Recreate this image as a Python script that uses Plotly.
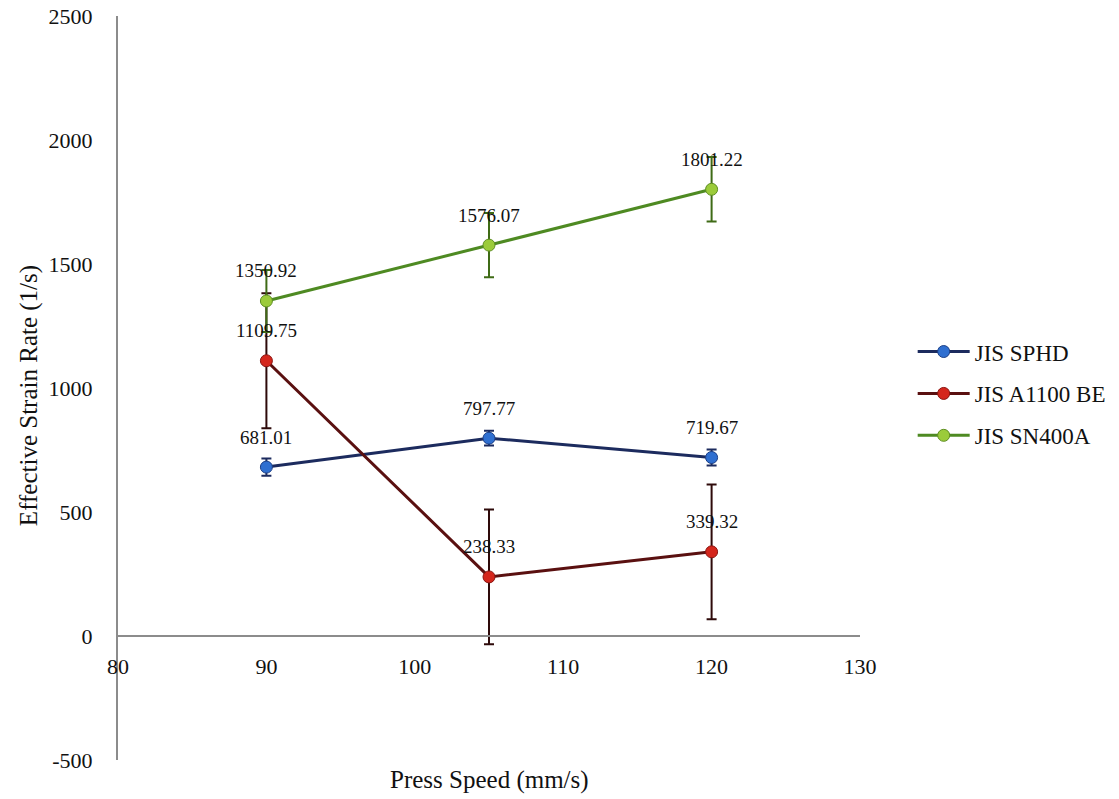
import plotly.graph_objects as go

press_speed = [90, 105, 120]
series_names = ["JIS SPHD", "JIS A1100 BE", "JIS SN400A"]
sphd = [681.01, 797.77, 719.67]
a1100 = [1109.75, 238.33, 339.32]
sn400a = [1350.92, 1576.07, 1801.22]
sphd_err = [35, 30, 32]
a1100_err = [272, 272, 272]
sn400a_err = [125, 130, 130]

y_ticks = [-500, 0, 500, 1000, 1500, 2000, 2500]
y_tick_text = ["-500", "0", "500", "1000", "1500", "2000", "2500"]
x_ticks = [80, 90, 100, 110, 120, 130]

FONT = "Liberation Serif, Times New Roman, serif"

styles = [
    dict(line="#1c2b5e", marker="#2f6fd0", outline="#1d3f86", err="#1c2b5e"),
    dict(line="#5a1010", marker="#d4261c", outline="#8a1410", err="#2e0a0a"),
    dict(line="#4e8a22", marker="#9bcb3a", outline="#5f8f22", err="#3f6b16"),
]

fig = go.Figure()
annotations = []
for name, vals, errs, st in zip(series_names, [sphd, a1100, sn400a],
                                [sphd_err, a1100_err, sn400a_err], styles):
    fig.add_trace(go.Scatter(
        x=press_speed, y=vals, name=name, mode="lines+markers",
        line=dict(color=st["line"], width=3),
        marker=dict(color=st["marker"], size=12,
                    line=dict(color=st["outline"], width=1)),
        error_y=dict(type="data", array=errs, visible=True,
                     color=st["err"], thickness=2, width=5),
        legendgroup=name,
    ))
    for xv, yv in zip(press_speed, vals):
        annotations.append(dict(
            x=xv, y=yv, xref="x", yref="y", text=f"{yv:.2f}",
            showarrow=False, yshift=30, yanchor="middle",
            font=dict(family=FONT, size=19, color="#111"),
        ))

annotations.append(dict(
    x=0.5, y=-0.027, xref="paper", yref="paper", text="Press Speed (mm/s)",
    showarrow=False, xanchor="center", yanchor="middle",
    font=dict(family=FONT, size=25, color="#111"),
))
annotations.append(dict(
    x=-0.119, y=0.49, xref="paper", yref="paper",
    text="Effective Strain Rate (1/s)", textangle=-90,
    showarrow=False, xanchor="center", yanchor="middle",
    font=dict(family=FONT, size=25, color="#111"),
))

fig.update_layout(
    width=1119, height=799,
    margin=dict(l=118, r=259, t=16, b=39, autoexpand=False),
    paper_bgcolor="white", plot_bgcolor="white",
    font=dict(family=FONT, size=20, color="#111"),
    showlegend=True,
    legend=dict(x=1.071, y=0.4925, xanchor="left", yanchor="middle",
                font=dict(family=FONT, size=23, color="#111"),
                tracegroupgap=9, itemwidth=52, bgcolor="rgba(0,0,0,0)"),
    annotations=annotations,
    xaxis=dict(range=[80, 130], tickvals=x_ticks, showgrid=False,
               zeroline=False, showline=True, linecolor="#8c8c8c",
               linewidth=2, ticks="", anchor="free", position=1/6,
               ticklabelstandoff=11,
               tickfont=dict(family=FONT, size=22, color="#111")),
    yaxis=dict(range=[-500, 2500], tickvals=y_ticks, ticktext=y_tick_text,
               showgrid=False, zeroline=False, showline=True,
               linecolor="#8c8c8c", linewidth=2, ticks="",
               ticklabelstandoff=19,
               tickfont=dict(family=FONT, size=22, color="#111")),
)

fig.write_html("out.html", config={"displayModeBar": False},
               post_script="document.body.style.margin='0';")
